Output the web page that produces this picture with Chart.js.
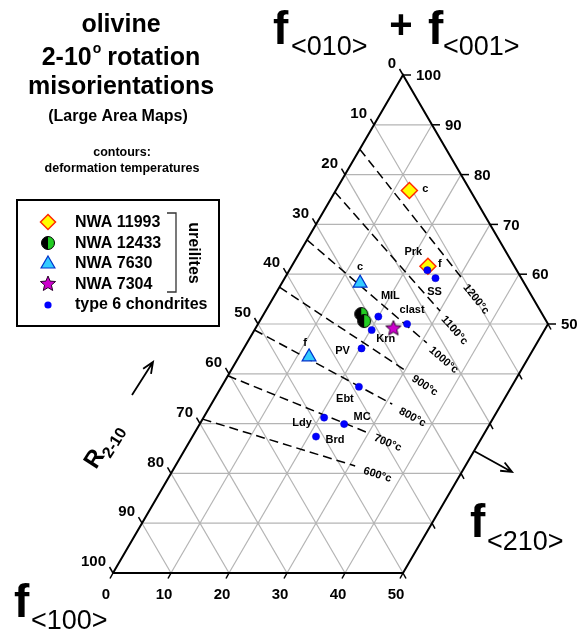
<!DOCTYPE html>
<html>
<head>
<meta charset="utf-8">
<script src="https://cdn.jsdelivr.net/npm/chart.js@4.4.1/dist/chart.umd.min.js"></script>
<style>
  html, body { margin: 0; padding: 0; background: #fff; }
  #chart { display: block; }
</style>
</head>
<body>
<canvas id="chart" width="578" height="634"></canvas>
<script>
// values, in percent: f<210> and f<010>+f<001>; f<100> is the remainder
const chondriteNames = ['Prk', 'SS', 'MIL', 'clast', 'Krn', 'PV', 'Ebt', 'Ldy', 'MC', 'Brd'];
const chondriteF210 = [23.8, 26.0, 20.0, 25.7, 20.2, 20.3, 23.7, 20.8, 24.9, 21.3];
const chondriteFsum = [60.8, 59.2, 51.5, 50.0, 48.8, 45.1, 37.4, 31.2, 29.9, 27.4];
const chondriteLabelDx = [-14, -1, 12, 5, 14, -19, -14, -22, 18, 19];
const chondriteLabelDy = [-18, 14, -21, -14, 9, 3, 12, 5, -7, 3];

const nwa11993Names = ['c', 'f'];
const nwa11993F210 = [12.7, 23.5];
const nwa11993Fsum = [76.8, 61.6];
const nwa11993LabelDx = [16, 12];
const nwa11993LabelDy = [-2, -2];

const nwa12433F210 = [16.8, 18.0];
const nwa12433Fsum = [52.0, 50.6];

const nwa7630Names = ['c', 'f'];
const nwa7630F210 = [13.5, 12.1];
const nwa7630Fsum = [58.2, 43.4];
const nwa7630LabelDx = [0, -4];
const nwa7630LabelDy = [-16, -14];

const nwa7304F210 = [23.7];
const nwa7304Fsum = [49.3];

// deformation temperature contours: start on the f<210> = 0 edge, end near f<210> = 30
const contourTemps = [600, 700, 800, 900, 1000, 1100, 1200];
const contourStartFsum = [30.9, 39.6, 48.8, 57.4, 66.9, 76.5, 85.1];
const contourEndF210 = [31.0, 29.5, 31.2, 30.2, 31.0, 30.1, 30.8];
const contourEndFsum = [21.5, 28.3, 33.9, 40.6, 46.2, 52.6, 59.0];

const rightTicks = [100, 90, 80, 70, 60, 50];
const leftTicks = [0, 10, 20, 30, 40, 50, 60, 70, 80, 90, 100];
const bottomTicks = [0, 10, 20, 30, 40, 50];

const toXY = (f210, fsum) => ({ x: f210 + fsum / 2, y: fsum });
const FONT = '"Liberation Sans", Arial, Helvetica, sans-serif';

function makeHalfCircle(r) {
  const c = document.createElement('canvas');
  const s = Math.ceil(r * 2 + 3);
  c.width = c.height = s;
  const g = c.getContext('2d');
  const m = s / 2;
  g.beginPath(); g.arc(m, m, r, Math.PI / 2, Math.PI * 1.5); g.closePath();
  g.fillStyle = '#000'; g.fill();
  g.beginPath(); g.arc(m, m, r, -Math.PI / 2, Math.PI / 2); g.closePath();
  g.fillStyle = '#22cc22'; g.fill();
  g.beginPath(); g.arc(m, m, r, 0, Math.PI * 2);
  g.strokeStyle = '#000'; g.lineWidth = 1; g.stroke();
  return c;
}

function makeStar(r) {
  const c = document.createElement('canvas');
  const s = Math.ceil(r * 2 + 4);
  c.width = c.height = s;
  const g = c.getContext('2d');
  g.translate(s / 2, s / 2 + 1);
  g.beginPath();
  for (let i = 0; i < 10; i++) {
    const rr = i % 2 ? r * 0.45 : r;
    const a = -Math.PI / 2 + i * Math.PI / 5;
    g.lineTo(rr * Math.cos(a), rr * Math.sin(a));
  }
  g.closePath();
  g.fillStyle = '#cc00cc'; g.fill();
  g.strokeStyle = '#2a002a'; g.lineWidth = 1; g.stroke();
  return c;
}

const halfCircle = makeHalfCircle(6.5);
const star = makeStar(8);

function seg(a, b, color, width, dash, order) {
  return { data: [a, b], showLine: true, borderColor: color, borderWidth: width,
    borderDash: dash || [], pointRadius: 0, fill: false, tension: 0, order };
}

const datasets = [];

// grid
for (let b = 10; b < 100; b += 10) datasets.push(seg(toXY(0, b), toXY(Math.min(50, 100 - b), b), '#b4b4b4', 1.2, null, 10));
for (let c = 10; c < 50; c += 10) datasets.push(seg(toXY(c, 0), toXY(c, 100 - c), '#b4b4b4', 1.2, null, 10));
for (let a = 10; a < 100; a += 10) {
  const end = a >= 50 ? toXY(100 - a, 0) : toXY(50, 50 - a);
  datasets.push(seg(toXY(0, 100 - a), end, '#b4b4b4', 1.2, null, 10));
}

// outline
datasets.push({ data: [toXY(0, 0), toXY(0, 100), toXY(50, 50), toXY(50, 0), toXY(0, 0)],
  showLine: true, borderColor: '#000', borderWidth: 2, pointRadius: 0, fill: false, order: 6 });

// contours
contourTemps.forEach((t, i) => {
  datasets.push(seg(toXY(0, contourStartFsum[i]), toXY(contourEndF210[i], contourEndFsum[i]), '#000', 1.5, [9, 5], 5));
});

// samples
datasets.push({ label: 'NWA 11993', data: nwa11993F210.map((v, i) => toXY(v, nwa11993Fsum[i])),
  pointStyle: 'rectRot', pointRadius: 8, backgroundColor: '#ffff00', borderColor: '#ff2a00', borderWidth: 1.5, order: 2 });
datasets.push({ label: 'NWA 12433', data: nwa12433F210.map((v, i) => toXY(v, nwa12433Fsum[i])),
  pointStyle: halfCircle, pointRadius: 7, order: 2 });
datasets.push({ label: 'NWA 7630', data: nwa7630F210.map((v, i) => toXY(v, nwa7630Fsum[i])),
  pointStyle: 'triangle', pointRadius: 8, backgroundColor: '#33ccff', borderColor: '#0033cc', borderWidth: 1.2, order: 2 });
datasets.push({ label: 'NWA 7304', data: nwa7304F210.map((v, i) => toXY(v, nwa7304Fsum[i])),
  pointStyle: star, pointRadius: 8, order: 2 });
datasets.push({ label: 'type 6 chondrites', data: chondriteF210.map((v, i) => toXY(v, chondriteFsum[i])),
  pointStyle: 'circle', pointRadius: 3.6, backgroundColor: '#0000ff', borderColor: '#0000cc', borderWidth: 0.5, order: 0 });

function txt(ctx, s, x, y, font, align, base) {
  ctx.font = font;
  ctx.textAlign = align || 'center';
  ctx.textBaseline = base || 'alphabetic';
  ctx.fillText(s, x, y);
}

function arrow(ctx, x1, y1, x2, y2) {
  const a = Math.atan2(y2 - y1, x2 - x1);
  ctx.beginPath();
  ctx.moveTo(x1, y1); ctx.lineTo(x2, y2);
  ctx.moveTo(x2 - 12 * Math.cos(a - 0.4), y2 - 12 * Math.sin(a - 0.4));
  ctx.lineTo(x2, y2);
  ctx.lineTo(x2 - 12 * Math.cos(a + 0.4), y2 - 12 * Math.sin(a + 0.4));
  ctx.stroke();
}

function diamond(ctx, x, y, r) {
  ctx.beginPath();
  ctx.moveTo(x, y - r); ctx.lineTo(x + r, y); ctx.lineTo(x, y + r); ctx.lineTo(x - r, y); ctx.closePath();
  ctx.fillStyle = '#ffff00'; ctx.fill();
  ctx.strokeStyle = '#ff2a00'; ctx.lineWidth = 1.5; ctx.stroke();
}

function triangle(ctx, x, y, r) {
  ctx.beginPath();
  ctx.moveTo(x, y - r);
  ctx.lineTo(x + r * 0.866, y + r / 2); ctx.lineTo(x - r * 0.866, y + r / 2); ctx.closePath();
  ctx.fillStyle = '#33ccff'; ctx.fill();
  ctx.strokeStyle = '#0033cc'; ctx.lineWidth = 1.2; ctx.stroke();
}

const decor = {
  id: 'decor',
  afterDatasetsDraw(chart) {
    const ctx = chart.ctx;
    const sx = chart.scales.x, sy = chart.scales.y;
    const P = (f210, fsum) => { const p = toXY(f210, fsum); return [sx.getPixelForValue(p.x), sy.getPixelForValue(p.y)]; };
    ctx.save();
    ctx.fillStyle = '#000';
    ctx.strokeStyle = '#000';
    ctx.lineWidth = 1.5;

    // ticks and tick labels
    const tickFont = `bold 15px ${FONT}`;
    rightTicks.forEach(b => {
      const [x, y] = P(100 - b, b);
      ctx.beginPath(); ctx.moveTo(x, y); ctx.lineTo(x + 8, y); ctx.stroke();
      txt(ctx, String(b), x + 13, y + 1, tickFont, 'left', 'middle');
    });
    leftTicks.forEach(a => {
      const [x, y] = P(0, 100 - a);
      ctx.beginPath(); ctx.moveTo(x, y); ctx.lineTo(x - 3.5, y - 6); ctx.stroke();
      txt(ctx, String(a), x - 7, y - 11, tickFont, 'right', 'middle');
    });
    bottomTicks.forEach(c => {
      const [x, y] = P(c, 0);
      ctx.beginPath(); ctx.moveTo(x, y); ctx.lineTo(x - 3, y + 5.5); ctx.stroke();
      txt(ctx, String(c), x - 7, y + 22, tickFont, 'center', 'middle');
    });
    for (let b = 0; b <= 50; b += 10) {
      const [x, y] = P(50, b);
      ctx.beginPath(); ctx.moveTo(x, y); ctx.lineTo(x + 3, y + 5.5); ctx.stroke();
    }

    // contour labels
    contourTemps.forEach((t, i) => {
      const [x1, y1] = P(0, contourStartFsum[i]);
      const [x2, y2] = P(contourEndF210[i], contourEndFsum[i]);
      const a = Math.atan2(y2 - y1, x2 - x1);
      ctx.save();
      ctx.translate(x2 + 24 * Math.cos(a) - 2 * Math.sin(a), y2 + 24 * Math.sin(a) + 2 * Math.cos(a));
      ctx.rotate(a);
      txt(ctx, `${t}°c`, 0, 0, `bold 11px ${FONT}`, 'center', 'middle');
      ctx.restore();
    });

    // point labels
    const lf = `bold 11px ${FONT}`;
    chondriteNames.forEach((n, i) => {
      const [x, y] = P(chondriteF210[i], chondriteFsum[i]);
      txt(ctx, n, x + chondriteLabelDx[i], y + chondriteLabelDy[i], lf, 'center', 'middle');
    });
    nwa11993Names.forEach((n, i) => {
      const [x, y] = P(nwa11993F210[i], nwa11993Fsum[i]);
      txt(ctx, n, x + nwa11993LabelDx[i], y + nwa11993LabelDy[i], lf, 'center', 'middle');
    });
    nwa7630Names.forEach((n, i) => {
      const [x, y] = P(nwa7630F210[i], nwa7630Fsum[i]);
      txt(ctx, n, x + nwa7630LabelDx[i], y + nwa7630LabelDy[i], lf, 'center', 'middle');
    });

    // title block
    const big = `bold 25px ${FONT}`;
    txt(ctx, 'olivine', 121, 32, big);
    ctx.font = big;
    const w1 = ctx.measureText('2-10').width, w3 = ctx.measureText(' rotation').width;
    ctx.font = `bold 14px ${FONT}`;
    const w2 = ctx.measureText('o').width;
    let x0 = 121 - (w1 + w2 + w3) / 2;
    txt(ctx, '2-10', x0, 65, big, 'left');
    txt(ctx, 'o', x0 + w1 + 1, 53, `bold 14px ${FONT}`, 'left');
    txt(ctx, ' rotation', x0 + w1 + w2, 65, big, 'left');
    txt(ctx, 'misorientations', 121, 94, big);
    txt(ctx, '(Large Area Maps)', 118, 121, `bold 16px ${FONT}`);
    txt(ctx, 'contours:', 122, 156, `bold 12.5px ${FONT}`);
    txt(ctx, 'deformation temperatures', 122, 172, `bold 12.5px ${FONT}`);

    // legend box
    ctx.lineWidth = 2;
    ctx.strokeRect(17, 200, 202, 126);
    const lg = `bold 16px ${FONT}`;
    diamond(ctx, 48, 222, 7.5);
    ctx.drawImage(halfCircle, 48 - halfCircle.width / 2, 243 - halfCircle.height / 2);
    triangle(ctx, 48, 264, 8);
    ctx.drawImage(star, 48 - star.width / 2, 283 - star.height / 2);
    ctx.beginPath(); ctx.arc(48, 305, 3.6, 0, Math.PI * 2); ctx.fillStyle = '#0000ff'; ctx.fill();
    ctx.fillStyle = '#000';
    txt(ctx, 'NWA 11993', 75, 227, lg, 'left');
    txt(ctx, 'NWA 12433', 75, 248, lg, 'left');
    txt(ctx, 'NWA 7630', 75, 268, lg, 'left');
    txt(ctx, 'NWA 7304', 75, 289, lg, 'left');
    txt(ctx, 'type 6 chondrites', 75, 309, lg, 'left');
    ctx.strokeStyle = '#333';
    ctx.lineWidth = 1.3;
    ctx.beginPath();
    ctx.moveTo(167, 213); ctx.lineTo(176, 213); ctx.lineTo(176, 292); ctx.lineTo(167, 292);
    ctx.stroke();
    ctx.save();
    ctx.translate(193, 253); ctx.rotate(Math.PI / 2);
    txt(ctx, 'ureilites', 0, 0, lg, 'center', 'middle');
    ctx.restore();

    // axis titles
    ctx.strokeStyle = '#000';
    ctx.lineWidth = 1.8;
    const fBig = `bold 46px ${FONT}`, sub = `27px ${FONT}`;
    txt(ctx, 'f', 273, 44, fBig, 'left');
    txt(ctx, '<010>', 291, 55, sub, 'left');
    txt(ctx, '+', 401, 38, `bold 40px ${FONT}`, 'center');
    txt(ctx, 'f', 428, 44, fBig, 'left');
    txt(ctx, '<001>', 443, 55, sub, 'left');
    txt(ctx, 'f', 14, 617, fBig, 'left');
    txt(ctx, '<100>', 31, 629, sub, 'left');
    txt(ctx, 'f', 470, 537, fBig, 'left');
    txt(ctx, '<210>', 487, 550, sub, 'left');

    // R2-10 with arrow
    arrow(ctx, 132, 395, 153, 362);
    ctx.save();
    ctx.translate(96, 470); ctx.rotate(-57.5 * Math.PI / 180);
    txt(ctx, 'R', 0, 0, `bold 24px ${FONT}`, 'left');
    txt(ctx, '2-10', 17, 6, `bold 16px ${FONT}`, 'left');
    ctx.restore();

    // f<210> arrow
    const [ax, ay] = P(50, 24.5);
    arrow(ctx, ax, ay, ax + 38, ay + 21);
    ctx.restore();
  }
};

new Chart(document.getElementById('chart'), {
  type: 'scatter',
  data: { datasets },
  options: {
    responsive: false,
    animation: false,
    layout: { padding: 0, autoPadding: false },
    plugins: { legend: { display: false }, tooltip: { enabled: false } },
    scales: {
      x: { type: 'linear', display: false, min: -113 / 5.8, max: (578 - 113) / 5.8 },
      y: { type: 'linear', display: false, min: (573 - 634) / 4.98, max: 573 / 4.98 }
    }
  },
  plugins: [decor]
});
</script>
</body>
</html>
